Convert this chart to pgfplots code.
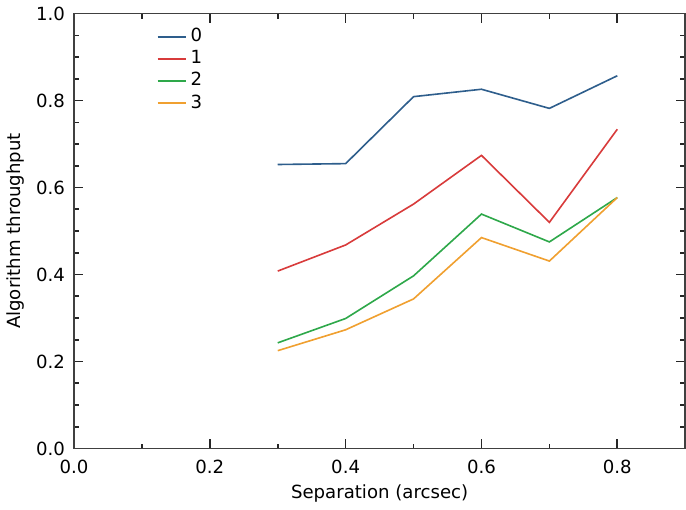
\documentclass[border=0pt]{standalone}
\usepackage{pgfplots}
\pgfplotsset{compat=1.18}
\usepackage{fontspec}
\setmainfont{DejaVu Sans}
\definecolor{c0}{HTML}{2E5E8C}
\definecolor{c1}{HTML}{D83B3B}
\definecolor{c2}{HTML}{2EA84A}
\definecolor{c3}{HTML}{F0A030}
\begin{document}
\begin{tikzpicture}
\begin{axis}[
    scale only axis,
    width=303.5pt, height=216pt,
    xmin=0, xmax=0.9, ymin=0, ymax=1.0,
    xtick={0,0.2,...,0.8},
    ytick={0,0.2,...,1.0},
    minor x tick num=1,
    minor y tick num=3,
    xticklabel style={yshift=-2pt,/pgf/number format/.cd,fixed,fixed zerofill,precision=1},
    yticklabel style={xshift=-1pt,/pgf/number format/.cd,fixed,fixed zerofill,precision=1},
    /pgf/number format/assume math mode=true,
    tick align=inside,
    major tick length=4.5pt, minor tick length=2.5pt,
    tick style={black!85, line width=0.8pt},
    axis line style={line width=0.8pt, black!75},
    font=\fontsize{9}{10.5}\selectfont,
    xlabel={Separation (arcsec)},
    ylabel={Algorithm throughput},
    xlabel style={yshift=1pt},
    ylabel style={yshift=-1pt},
    legend style={draw=none, fill=none, at={(0.125,0.985)}, anchor=north west,
        row sep=-1.2pt, font=\fontsize{9}{10.5}\selectfont},
    legend cell align=left,
    legend image code/.code={\draw[#1] (0pt,0pt) -- (14pt,0pt);},
    every axis plot/.append style={line width=0.8pt},
]
\addplot[c0] coordinates {(0.3,0.653) (0.4,0.655) (0.5,0.809) (0.6,0.826) (0.7,0.782) (0.8,0.857)};
\addplot[c1] coordinates {(0.3,0.408) (0.4,0.468) (0.5,0.562) (0.6,0.674) (0.7,0.520) (0.8,0.734)};
\addplot[c2] coordinates {(0.3,0.243) (0.4,0.299) (0.5,0.397) (0.6,0.539) (0.7,0.475) (0.8,0.577)};
\addplot[c3] coordinates {(0.3,0.225) (0.4,0.273) (0.5,0.344) (0.6,0.485) (0.7,0.431) (0.8,0.577)};
\legend{0,1,2,3}
\end{axis}
\end{tikzpicture}
\end{document}
